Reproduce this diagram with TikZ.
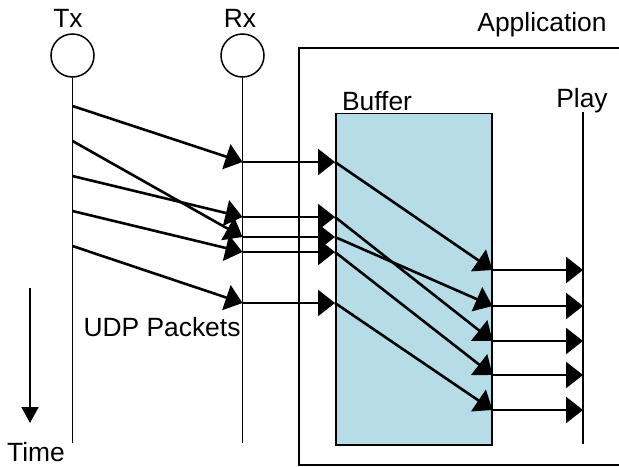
\documentclass[tikz,border=0pt]{standalone}
\usepackage{fontspec}
\setmainfont{Liberation Sans}
\usetikzlibrary{arrows.meta,positioning}
\definecolor{bufferblue}{RGB}{182,221,231}

\begin{document}
\begin{tikzpicture}[x=0.5pt, y=-0.5pt, font=\fontsize{13.2}{15}\selectfont,
    lane/.style={line width=0.75pt},
    host/.style={draw, circle, lane, minimum size=21.5pt, inner sep=0pt},
    pkt/.style={-{Triangle[length=8.5pt, width=13pt]}, line width=1.3pt}]
  \useasboundingbox (0,0) rectangle (619,466);
  % application box (runs off the right edge) and buffer
  \coordinate (apptr) at (619,48);
  \coordinate (apptl) at (299,48);
  \coordinate (appbl) at (299,465);
  \coordinate (appbr) at (619,465);
  \draw[lane] (apptr) -- (apptl) -- (appbl) -- (appbr);
  \node[anchor=base] (applabel) at (542,32) {Application};
  \node[draw, lane, fill=bufferblue, anchor=north west, minimum width=78pt, minimum height=165.75pt, inner sep=0pt] (buf) at (335,112.5) {};
  \node[anchor=base] (buflabel) at (377,110) {Buffer};
  % sender and receiver
  \node[host] (tx) at (72.5,55.5) {};
  \node[host] (rx) at (242.5,55.5) {};
  \node[anchor=base] (txlabel) at (68,27) {Tx};
  \node[anchor=base] (rxlabel) at (240,27) {Rx};
  \coordinate (txbot) at (72.5,443);
  \coordinate (rxbot) at (242.5,443);
  \draw[lane] (tx) -- (txbot);
  \draw[lane] (rx) -- (rxbot);
  % play line
  \coordinate (playtop) at (583,112);
  \coordinate (playbot) at (583,444);
  \node[anchor=base] (playlabel) at (582,107) {Play};
  \draw[line width=1pt] (playtop) -- (playbot);
  % packets: sent, received, played out
  \foreach \s/\r/\o [count=\i] in {106/162/270, 141/237/306, 176/217/341, 211/252/375, 246/303/410} {
    \coordinate (send\i) at (tx |- 0,\s);
    \coordinate (recv\i) at (rx |- 0,\r);
    \coordinate (bufin\i) at (buf.west |- 0,\r);
    \coordinate (bufout\i) at (buf.east |- 0,\o);
    \coordinate (play\i) at (playtop |- 0,\o);
    \draw[pkt] (send\i) -- (recv\i);
    \draw[pkt] (recv\i) -- (bufin\i);
    \draw[pkt] (bufin\i) -- (bufout\i);
    \draw[pkt] (bufout\i) -- (play\i);
  }
  \node[anchor=base] (udp) at (162,336) {UDP Packets};
  % time axis
  \coordinate (timetop) at (30,288);
  \coordinate (timebot) at (30,423);
  \draw[-{Triangle[length=8pt, width=8.5pt]}, line width=1pt] (timetop) -- (timebot);
  \node[anchor=base] (time) at (36,461) {Time};
\end{tikzpicture}
\end{document}
